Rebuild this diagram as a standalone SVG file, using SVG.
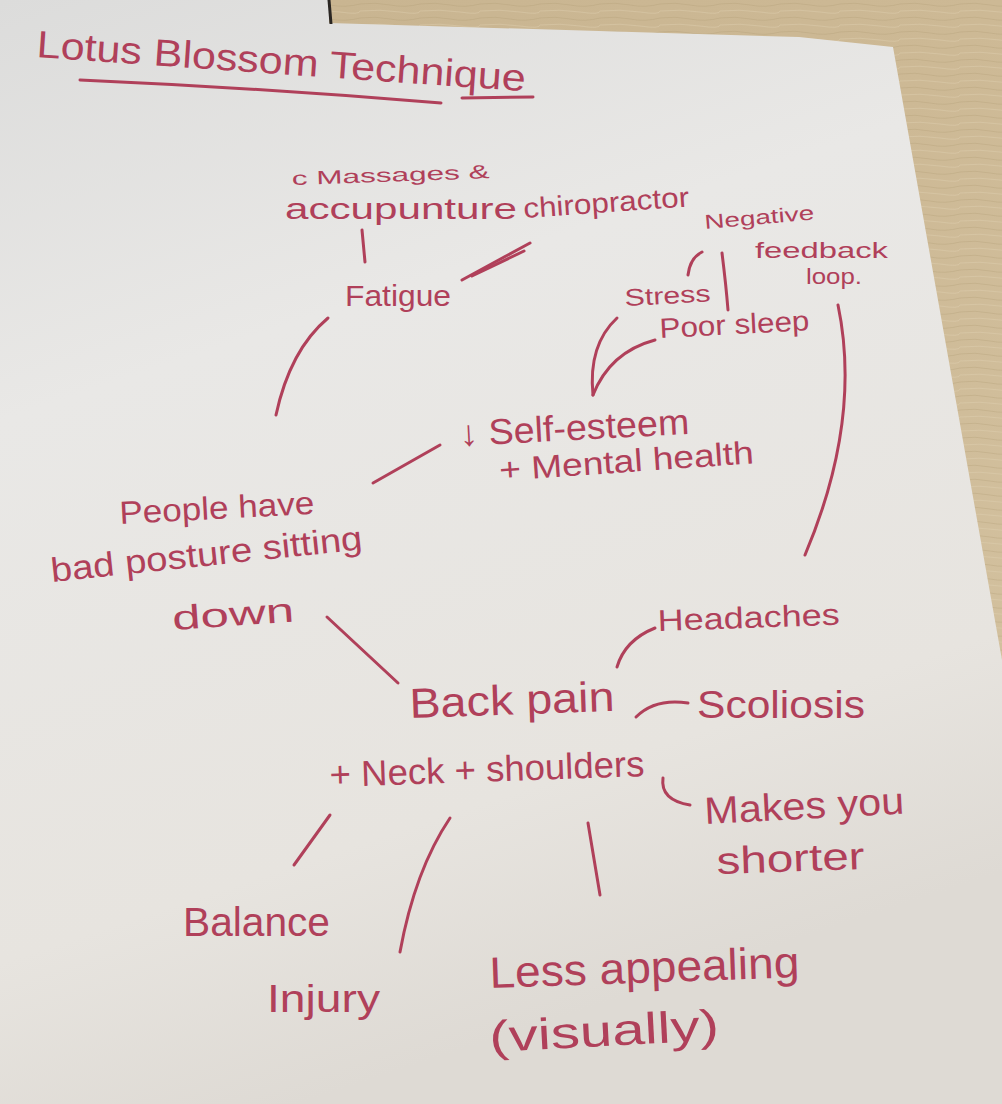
<svg xmlns="http://www.w3.org/2000/svg" width="1002" height="1104" viewBox="0 0 1002 1104">
<defs>
<linearGradient id="paper" x1="0" y1="0" x2="0.3" y2="1">
<stop offset="0" stop-color="#dcdcdb"/>
<stop offset="0.35" stop-color="#e9e8e6"/>
<stop offset="0.8" stop-color="#e7e4df"/>
<stop offset="1" stop-color="#dedad4"/>
</linearGradient>
<linearGradient id="wood" x1="0" y1="0" x2="1" y2="1">
<stop offset="0" stop-color="#c7b38f"/>
<stop offset="0.5" stop-color="#cdb995"/>
<stop offset="1" stop-color="#d6c5a4"/>
</linearGradient>
<pattern id="grain" width="60" height="14" patternUnits="userSpaceOnUse">
<path d="M0,4 Q15,2 30,5 T60,4" fill="none" stroke="#b29c76" stroke-width="1" opacity="0.35"/>
<path d="M0,11 Q20,9 40,12 T60,11" fill="none" stroke="#e0d2b4" stroke-width="1" opacity="0.4"/>
</pattern>
</defs>
<style>
.t{font-family:"Liberation Sans","DejaVu Sans",sans-serif;fill:#b0405a;}
.c{fill:none;stroke:#b0405a;stroke-width:3;stroke-linecap:round;}
</style>
<rect id="wood-bg" x="0" y="0" width="1002" height="1104" fill="url(#wood)"/>
<rect x="0" y="0" width="1002" height="1104" fill="url(#grain)"/>
<path id="sheet" d="M0,0 L329,0 L329,23 L799,37 L893,47 L1002,660 L1002,1104 L0,1104 Z" fill="url(#paper)"/>
<line x1="329" y1="0" x2="331" y2="24" stroke="#2a2622" stroke-width="3"/>

<g id="title">
<text class="t" x="36" y="57" font-size="38" textLength="490" lengthAdjust="spacingAndGlyphs" transform="rotate(4 36 57)" fill="#a8354f">Lotus Blossom Technique</text>
<path class="c" d="M80,80 Q260,88 441,103" stroke="#a8354f"/>
<path class="c" d="M462,98 L533,97" stroke="#a8354f"/>
</g>

<g id="connectors">
<path class="c" d="M362,230 L365,262"/>
<path class="c" d="M530,243 L462,280" stroke-width="4"/>
<path class="c" d="M524,251 L472,276" stroke-width="2"/>
<path class="c" d="M328,318 Q290,350 276,415"/>
<path class="c" d="M688,275 Q690,258 702,252"/>
<path class="c" d="M722,253 Q726,285 728,310"/>
<path class="c" d="M617,318 Q588,345 593,395"/>
<path class="c" d="M593,395 Q610,352 655,340"/>
<path class="c" d="M838,305 Q862,420 805,555"/>
<path class="c" d="M440,445 L373,483"/>
<path class="c" d="M327,617 L398,683"/>
<path class="c" d="M655,628 Q625,640 617,667"/>
<path class="c" d="M688,703 Q655,698 636,717"/>
<path class="c" d="M663,778 Q660,800 690,805"/>
<path class="c" d="M330,815 L294,865"/>
<path class="c" d="M450,818 Q415,870 400,952"/>
<path class="c" d="M588,823 L600,895"/>
</g>

<g id="node-massages">
<text class="t" x="292" y="185" font-size="19" textLength="198" lengthAdjust="spacingAndGlyphs" transform="rotate(-2 292 185)">c Massages &amp;</text>
<text class="t" x="285" y="219" font-size="30" textLength="232" lengthAdjust="spacingAndGlyphs">accupunture</text>
</g>
<g id="node-chiropractor">
<text class="t" x="524" y="218" font-size="28" textLength="166" lengthAdjust="spacingAndGlyphs" transform="rotate(-4 524 218)">chiropractor</text>
</g>
<g id="node-fatigue">
<text class="t" x="345" y="306" font-size="30" textLength="106" lengthAdjust="spacingAndGlyphs">Fatigue</text>
</g>
<g id="node-negative-loop">
<text class="t" x="705" y="229" font-size="20" textLength="110" lengthAdjust="spacingAndGlyphs" transform="rotate(-5 705 229)">Negative</text>
<text class="t" x="755" y="258" font-size="22" textLength="133" lengthAdjust="spacingAndGlyphs">feedback</text>
<text class="t" x="806" y="284" font-size="22" textLength="56" lengthAdjust="spacingAndGlyphs">loop.</text>
</g>
<g id="node-stress">
<text class="t" x="625" y="306" font-size="24" textLength="86" lengthAdjust="spacingAndGlyphs" transform="rotate(-3 625 306)">Stress</text>
</g>
<g id="node-poor-sleep">
<text class="t" x="660" y="338" font-size="28" textLength="150" lengthAdjust="spacingAndGlyphs" transform="rotate(-3 660 338)">Poor sleep</text>
</g>
<g id="node-self-esteem">
<text class="t" x="460" y="446" font-size="36" textLength="230" lengthAdjust="spacingAndGlyphs" transform="rotate(-3 460 446)">↓ Self-esteem</text>
<text class="t" x="500" y="481" font-size="32" textLength="255" lengthAdjust="spacingAndGlyphs" transform="rotate(-4 500 481)">+ Mental health</text>
</g>
<g id="node-people">
<text class="t" x="120" y="524" font-size="32" textLength="195" lengthAdjust="spacingAndGlyphs" transform="rotate(-3 120 524)">People have</text>
<text class="t" x="52" y="582" font-size="34" textLength="313" lengthAdjust="spacingAndGlyphs" transform="rotate(-6 52 582)">bad posture sitting</text>
<text class="t" x="173" y="630" font-size="34" textLength="122" lengthAdjust="spacingAndGlyphs" transform="rotate(-4 173 630)">down</text>
</g>
<g id="node-back-pain">
<text class="t" x="410" y="718" font-size="42" textLength="205" lengthAdjust="spacingAndGlyphs" transform="rotate(-2 410 718)">Back pain</text>
<text class="t" x="330" y="787" font-size="36" textLength="315" lengthAdjust="spacingAndGlyphs" transform="rotate(-2 330 787)">+ Neck + shoulders</text>
</g>
<g id="node-headaches">
<text class="t" x="658" y="631" font-size="30" textLength="182" lengthAdjust="spacingAndGlyphs" transform="rotate(-2 658 631)">Headaches</text>
</g>
<g id="node-scoliosis">
<text class="t" x="697" y="718" font-size="38" textLength="168" lengthAdjust="spacingAndGlyphs">Scoliosis</text>
</g>
<g id="node-makes-shorter">
<text class="t" x="705" y="824" font-size="38" textLength="200" lengthAdjust="spacingAndGlyphs" transform="rotate(-3 705 824)">Makes you</text>
<text class="t" x="717" y="874" font-size="38" textLength="148" lengthAdjust="spacingAndGlyphs" transform="rotate(-2 717 874)">shorter</text>
</g>
<g id="node-balance">
<text class="t" x="183" y="936" font-size="40" textLength="147" lengthAdjust="spacingAndGlyphs">Balance</text>
</g>
<g id="node-injury">
<text class="t" x="267" y="1012" font-size="38" textLength="113" lengthAdjust="spacingAndGlyphs">Injury</text>
</g>
<g id="node-less-appealing">
<text class="t" x="490" y="988" font-size="44" textLength="310" lengthAdjust="spacingAndGlyphs" transform="rotate(-2 490 988)">Less appealing</text>
<text class="t" x="490" y="1052" font-size="44" textLength="230" lengthAdjust="spacingAndGlyphs" transform="rotate(-3 490 1052)">(visually)</text>
</g>
</svg>
